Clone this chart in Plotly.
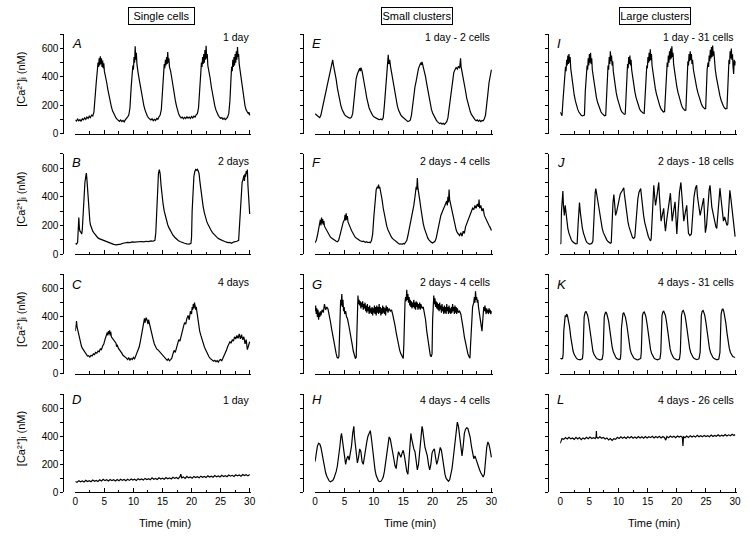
import plotly.graph_objects as go

# ---------------- data: (time in min, [Ca2+]i in nM) ----------------
trace_A = [(0,95),(0.2,88),(0.4,102),(0.6,90),(0.8,98),(1.0,86),(1.2,104),(1.4,96),(1.6,110),(1.8,100),(2.0,116),(2.2,106),(2.4,122),(2.6,112),(2.8,130),(3.0,124),(3.2,150),(3.4,230),(3.6,360),(3.8,450),(3.9,500),(4.0,470),(4.1,530),(4.2,480),(4.3,545),(4.4,490),(4.5,530),(4.6,470),(4.7,515),(4.8,460),(4.9,495),(5.0,440),(5.2,410),(5.4,360),(5.6,310),(5.8,265),(6.0,225),(6.2,190),(6.4,160),(6.6,140),(6.8,122),(7.0,110),(7.2,100),(7.4,94),(7.6,86),(7.8,96),(8.0,84),(8.2,92),(8.4,82),(8.6,96),(8.8,104),(9.0,118),(9.2,130),(9.4,180),(9.6,320),(9.8,440),(9.9,480),(10.0,450),(10.1,540),(10.2,500),(10.3,615),(10.4,520),(10.5,570),(10.6,490),(10.7,470),(10.8,430),(11.0,380),(11.2,330),(11.4,280),(11.6,235),(11.8,195),(12.0,165),(12.2,140),(12.4,122),(12.6,110),(12.8,104),(13.0,96),(13.2,104),(13.4,90),(13.6,100),(13.8,92),(14.0,106),(14.2,100),(14.4,118),(14.6,130),(14.8,170),(15.0,320),(15.2,440),(15.3,490),(15.4,460),(15.5,520),(15.6,480),(15.7,540),(15.8,490),(15.9,575),(16.0,500),(16.1,530),(16.2,470),(16.4,440),(16.6,390),(16.8,330),(17.0,280),(17.2,235),(17.4,195),(17.6,160),(17.8,135),(18.0,120),(18.2,110),(18.4,116),(18.6,104),(18.8,114),(19.0,106),(19.2,118),(19.4,108),(19.6,116),(19.8,106),(20.0,120),(20.2,110),(20.4,122),(20.6,116),(20.8,132),(21.0,140),(21.2,180),(21.4,330),(21.6,450),(21.7,500),(21.8,470),(21.9,540),(22.0,490),(22.1,560),(22.2,500),(22.3,590),(22.4,520),(22.5,620),(22.6,530),(22.7,560),(22.8,480),(23.0,440),(23.2,390),(23.4,330),(23.6,280),(23.8,235),(24.0,195),(24.2,165),(24.4,142),(24.6,128),(24.8,116),(25.0,108),(25.2,112),(25.4,100),(25.6,108),(25.8,98),(26.0,106),(26.2,115),(26.4,140),(26.6,230),(26.8,400),(26.9,470),(27.0,440),(27.1,520),(27.2,470),(27.3,540),(27.4,480),(27.5,560),(27.6,500),(27.7,580),(27.8,520),(27.9,610),(28.0,540),(28.1,560),(28.2,490),(28.4,430),(28.6,360),(28.8,290),(29.0,235),(29.2,195),(29.4,165),(29.6,150),(29.8,138),(29.9,150),(30.0,128)]

trace_B = [(0,75),(0.2,70),(0.4,82),(0.5,150),(0.6,255),(0.7,180),(0.8,160),(1.0,150),(1.1,140),(1.2,170),(1.35,300),(1.5,420),(1.65,500),(1.8,540),(1.9,565),(2.0,520),(2.1,450),(2.2,380),(2.3,320),(2.4,270),(2.5,230),(2.6,205),(2.8,180),(3.0,160),(3.2,148),(3.4,135),(3.6,125),(3.8,118),(4.0,110),(4.3,105),(4.6,98),(5.0,90),(5.4,84),(5.8,78),(6.2,72),(6.6,68),(7.0,65),(7.4,66),(7.8,70),(8.2,76),(8.6,80),(9.0,82),(9.4,80),(9.8,85),(10.2,84),(10.6,86),(11.0,84),(11.4,88),(11.8,86),(12.2,90),(12.6,88),(13.0,92),(13.4,90),(13.7,96),(13.85,150),(14.0,320),(14.15,470),(14.3,560),(14.45,590),(14.6,560),(14.75,480),(14.9,410),(15.1,350),(15.3,300),(15.5,260),(15.7,230),(15.9,205),(16.1,185),(16.3,168),(16.5,150),(16.8,132),(17.1,118),(17.4,105),(17.7,95),(18.0,88),(18.4,80),(18.8,76),(19.2,72),(19.6,70),(19.9,75),(20.0,120),(20.1,300),(20.25,470),(20.4,540),(20.55,575),(20.7,590),(20.85,585),(21.0,592),(21.15,580),(21.3,560),(21.45,500),(21.6,440),(21.8,380),(22.0,330),(22.2,290),(22.4,255),(22.6,230),(22.8,210),(23.0,190),(23.3,170),(23.6,150),(23.9,135),(24.2,122),(24.5,112),(24.8,105),(25.1,98),(25.4,92),(25.7,88),(26.0,84),(26.3,80),(26.6,82),(26.9,76),(27.2,84),(27.5,86),(27.8,90),(28.1,96),(28.25,200),(28.4,380),(28.55,460),(28.7,500),(28.85,520),(29.0,550),(29.1,510),(29.2,560),(29.3,540),(29.4,580),(29.5,560),(29.6,590),(29.7,480),(29.8,420),(29.9,340),(30.0,280)]

trace_C = [(0,300),(0.1,340),(0.2,370),(0.3,330),(0.45,300),(0.6,260),(0.75,230),(0.9,205),(1.05,195),(1.2,180),(1.35,170),(1.5,160),(1.7,145),(1.9,135),(2.1,125),(2.3,128),(2.5,118),(2.7,130),(2.9,125),(3.1,140),(3.3,135),(3.5,150),(3.7,145),(3.9,160),(4.1,155),(4.3,175),(4.5,170),(4.7,195),(4.9,210),(5.1,240),(5.3,265),(5.5,290),(5.6,270),(5.7,300),(5.8,280),(5.9,305),(6.0,270),(6.1,295),(6.2,260),(6.4,250),(6.6,240),(6.8,225),(7.0,215),(7.1,190),(7.2,205),(7.4,180),(7.6,170),(7.8,160),(8.0,145),(8.2,130),(8.4,125),(8.6,115),(8.8,110),(9.0,100),(9.2,112),(9.4,96),(9.6,108),(9.8,100),(10.0,115),(10.2,105),(10.4,125),(10.6,140),(10.8,165),(11.0,190),(11.2,230),(11.4,280),(11.6,330),(11.8,370),(11.9,390),(12.0,360),(12.2,395),(12.4,370),(12.5,350),(12.6,380),(12.8,340),(13.0,300),(13.2,270),(13.4,240),(13.6,210),(13.8,185),(14.0,175),(14.2,170),(14.4,160),(14.6,150),(14.8,140),(15.0,130),(15.2,120),(15.4,112),(15.6,100),(15.8,95),(16.0,105),(16.2,92),(16.4,100),(16.6,110),(16.8,140),(17.0,165),(17.2,150),(17.4,185),(17.6,210),(17.8,240),(18.0,230),(18.2,270),(18.4,300),(18.6,330),(18.8,360),(19.0,350),(19.2,390),(19.4,410),(19.6,380),(19.8,440),(20.0,420),(20.1,470),(20.2,450),(20.3,490),(20.4,460),(20.5,500),(20.6,480),(20.7,450),(20.8,470),(21.0,400),(21.2,350),(21.4,300),(21.6,270),(21.8,240),(22.0,210),(22.2,190),(22.4,170),(22.6,150),(22.8,135),(23.0,120),(23.2,108),(23.4,100),(23.6,92),(23.8,88),(24.0,95),(24.2,85),(24.4,92),(24.6,82),(24.8,95),(25.0,100),(25.2,92),(25.4,110),(25.6,120),(25.8,140),(26.0,165),(26.2,190),(26.4,205),(26.6,225),(26.8,215),(27.0,240),(27.2,230),(27.4,260),(27.6,245),(27.8,270),(28.0,250),(28.2,280),(28.4,245),(28.6,275),(28.8,240),(29.0,260),(29.2,210),(29.4,240),(29.6,170),(29.8,200),(30.0,225)]

trace_D = [(0,78),(0.3,72),(0.6,84),(0.9,76),(1.2,82),(1.5,74),(1.8,86),(2.1,78),(2.4,84),(2.7,76),(3.0,88),(3.3,80),(3.6,86),(3.9,78),(4.2,90),(4.5,82),(4.8,94),(5.1,84),(5.4,90),(5.7,82),(6.0,92),(6.3,84),(6.6,90),(6.9,82),(7.2,92),(7.5,84),(7.8,94),(8.1,86),(8.4,92),(8.7,84),(9.0,94),(9.3,86),(9.6,96),(9.9,88),(10.2,94),(10.5,86),(10.8,98),(11.1,90),(11.4,96),(11.7,88),(12.0,100),(12.3,92),(12.6,98),(12.9,90),(13.2,104),(13.5,94),(13.8,100),(14.1,92),(14.4,104),(14.7,96),(15.0,102),(15.3,94),(15.6,106),(15.9,98),(16.2,104),(16.5,96),(16.8,108),(17.1,100),(17.4,106),(17.7,98),(18.0,112),(18.15,130),(18.3,104),(18.6,110),(18.9,100),(19.2,114),(19.5,104),(19.8,110),(20.1,102),(20.4,114),(20.7,106),(21.0,112),(21.3,104),(21.6,116),(21.9,108),(22.2,114),(22.5,106),(22.8,118),(23.1,110),(23.4,116),(23.7,108),(24.0,120),(24.3,112),(24.6,118),(24.9,110),(25.2,122),(25.5,114),(25.8,120),(26.1,112),(26.4,124),(26.7,116),(27.0,122),(27.3,114),(27.6,126),(27.9,118),(28.2,124),(28.5,116),(28.8,128),(29.1,120),(29.4,126),(29.7,118),(30.0,128)]

trace_E = [(0,140),(0.2,130),(0.4,122),(0.6,118),(0.8,112),(1.0,130),(1.2,170),(1.4,210),(1.6,250),(1.8,290),(2.0,330),(2.2,370),(2.4,410),(2.6,450),(2.8,480),(2.9,500),(3.0,520),(3.1,490),(3.2,470),(3.4,420),(3.6,380),(3.8,320),(4.0,270),(4.2,230),(4.4,195),(4.6,170),(4.8,150),(5.0,135),(5.2,125),(5.4,118),(5.6,112),(5.8,110),(6.0,108),(6.2,115),(6.4,140),(6.6,230),(6.8,330),(7.0,390),(7.2,420),(7.4,440),(7.6,460),(7.7,440),(7.8,465),(8.0,440),(8.2,400),(8.4,350),(8.6,300),(8.8,250),(9.0,210),(9.2,180),(9.4,160),(9.6,140),(9.8,128),(10.0,118),(10.2,112),(10.4,108),(10.6,104),(10.8,100),(11.0,98),(11.2,102),(11.4,96),(11.6,110),(11.8,200),(12.0,320),(12.2,430),(12.35,500),(12.45,555),(12.55,490),(12.7,520),(12.85,470),(13.0,430),(13.2,380),(13.4,330),(13.6,280),(13.8,230),(14.0,195),(14.2,165),(14.4,145),(14.6,130),(14.8,120),(15.0,112),(15.2,104),(15.4,96),(15.6,90),(15.8,84),(16.0,88),(16.2,94),(16.4,130),(16.6,200),(16.8,280),(17.0,330),(17.2,370),(17.4,420),(17.6,460),(17.8,480),(18.0,500),(18.1,485),(18.2,505),(18.4,470),(18.6,440),(18.8,400),(19.0,350),(19.2,300),(19.4,250),(19.6,205),(19.8,170),(20.0,145),(20.2,125),(20.4,110),(20.6,96),(20.8,84),(21.0,76),(21.2,70),(21.4,74),(21.6,66),(21.8,72),(22.0,64),(22.2,74),(22.4,84),(22.6,110),(22.8,180),(23.0,260),(23.2,330),(23.4,390),(23.6,430),(23.8,450),(24.0,465),(24.2,455),(24.4,475),(24.6,460),(24.75,530),(24.85,470),(25.0,440),(25.2,400),(25.4,350),(25.6,300),(25.8,250),(26.0,210),(26.2,180),(26.4,155),(26.6,135),(26.8,120),(27.0,108),(27.2,98),(27.4,90),(27.6,96),(27.8,86),(28.0,94),(28.2,84),(28.4,92),(28.6,90),(28.8,104),(29.0,130),(29.2,190),(29.4,280),(29.6,360),(29.8,420),(30.0,450)]

trace_F = [(0,80),(0.2,95),(0.4,130),(0.6,170),(0.8,210),(0.9,240),(1.0,200),(1.1,255),(1.2,215),(1.3,245),(1.4,205),(1.5,230),(1.6,195),(1.8,180),(2.0,160),(2.2,145),(2.4,130),(2.6,120),(2.8,112),(3.0,105),(3.2,100),(3.4,95),(3.6,90),(3.8,86),(4.0,95),(4.2,125),(4.4,160),(4.6,195),(4.8,225),(5.0,240),(5.1,275),(5.2,235),(5.3,285),(5.4,240),(5.5,265),(5.6,225),(5.8,210),(6.0,185),(6.2,165),(6.4,148),(6.6,132),(6.8,120),(7.0,112),(7.2,105),(7.4,100),(7.6,95),(7.8,92),(8.0,88),(8.2,90),(8.4,85),(8.6,82),(8.8,86),(9.0,80),(9.2,84),(9.4,80),(9.6,95),(9.8,140),(10.0,260),(10.2,380),(10.4,450),(10.6,470),(10.7,460),(10.8,485),(10.9,460),(11.0,470),(11.2,430),(11.4,380),(11.6,320),(11.8,270),(12.0,230),(12.2,195),(12.4,170),(12.6,150),(12.8,132),(13.0,118),(13.2,108),(13.4,100),(13.6,92),(13.8,85),(14.0,78),(14.2,74),(14.4,70),(14.6,72),(14.8,68),(15.0,74),(15.2,70),(15.4,80),(15.6,95),(15.8,130),(16.0,170),(16.2,210),(16.4,250),(16.6,290),(16.8,340),(17.0,400),(17.1,430),(17.2,470),(17.3,450),(17.4,530),(17.5,460),(17.6,440),(17.8,380),(18.0,320),(18.2,260),(18.4,215),(18.6,180),(18.8,150),(19.0,128),(19.2,110),(19.4,98),(19.6,88),(19.8,82),(20.0,78),(20.2,82),(20.4,90),(20.6,110),(20.8,150),(21.0,200),(21.2,230),(21.4,270),(21.6,290),(21.8,310),(22.0,330),(22.2,345),(22.4,370),(22.5,340),(22.6,400),(22.7,360),(22.8,450),(22.9,380),(23.0,360),(23.2,320),(23.4,280),(23.6,240),(23.8,200),(24.0,170),(24.2,150),(24.4,140),(24.6,130),(24.8,150),(25.0,125),(25.2,160),(25.4,145),(25.6,190),(25.8,210),(26.0,240),(26.2,260),(26.4,280),(26.6,300),(26.8,320),(27.0,310),(27.2,340),(27.4,320),(27.6,350),(27.8,330),(27.9,380),(28.0,320),(28.2,340),(28.4,300),(28.6,320),(28.8,270),(29.0,250),(29.2,230),(29.4,220),(29.6,200),(29.8,185),(30.0,165)]

trace_G = [(0,440),(0.1,480),(0.2,420),(0.3,460),(0.4,400),(0.5,450),(0.6,380),(0.7,430),(0.8,400),(0.9,440),(1.0,410),(1.2,450),(1.4,430),(1.6,490),(1.8,450),(2.0,470),(2.2,455),(2.4,420),(2.6,370),(2.8,320),(3.0,270),(3.2,220),(3.4,180),(3.6,140),(3.75,115),(3.9,110),(4.05,120),(4.15,330),(4.25,450),(4.35,520),(4.45,480),(4.55,560),(4.65,470),(4.75,520),(4.85,440),(4.95,470),(5.05,420),(5.2,440),(5.35,400),(5.5,390),(5.7,350),(5.9,310),(6.1,260),(6.3,210),(6.5,160),(6.7,125),(6.85,110),(7.0,115),(7.1,300),(7.2,480),(7.3,550),(7.4,490),(7.5,520),(7.6,480),(7.7,510),(7.8,460),(7.9,500),(8.0,470),(8.1,510),(8.2,450),(8.3,490),(8.4,460),(8.5,500),(8.6,440),(8.7,480),(8.8,430),(8.9,490),(9.0,440),(9.1,470),(9.2,420),(9.3,480),(9.4,430),(9.5,460),(9.6,420),(9.7,470),(9.8,410),(9.9,460),(10.0,430),(10.1,480),(10.2,420),(10.3,470),(10.4,410),(10.5,480),(10.6,430),(10.7,470),(10.8,420),(10.9,490),(11.0,430),(11.1,470),(11.2,410),(11.3,460),(11.4,420),(11.5,480),(11.6,430),(11.7,470),(11.8,420),(11.9,460),(12.0,410),(12.1,480),(12.2,440),(12.3,470),(12.4,430),(12.6,460),(12.8,440),(13.0,450),(13.2,420),(13.4,390),(13.6,340),(13.8,290),(14.0,240),(14.2,200),(14.4,165),(14.6,140),(14.8,120),(15.0,108),(15.1,200),(15.2,420),(15.3,500),(15.4,540),(15.5,510),(15.6,590),(15.7,520),(15.8,560),(15.9,500),(16.0,540),(16.1,480),(16.2,520),(16.3,470),(16.4,510),(16.5,460),(16.6,500),(16.7,470),(16.8,520),(16.9,460),(17.0,500),(17.1,450),(17.2,510),(17.3,470),(17.4,500),(17.5,450),(17.6,490),(17.7,460),(17.8,500),(17.9,450),(18.0,490),(18.2,460),(18.4,470),(18.6,430),(18.8,380),(19.0,300),(19.2,230),(19.4,170),(19.6,130),(19.75,120),(19.9,140),(20.0,380),(20.1,500),(20.2,550),(20.3,490),(20.4,530),(20.5,470),(20.6,510),(20.7,460),(20.8,500),(20.9,450),(21.0,490),(21.1,440),(21.2,500),(21.3,450),(21.4,480),(21.5,430),(21.6,490),(21.7,440),(21.8,470),(21.9,420),(22.0,480),(22.1,430),(22.2,470),(22.3,420),(22.4,490),(22.5,440),(22.6,470),(22.7,420),(22.8,480),(22.9,430),(23.0,460),(23.1,420),(23.2,470),(23.3,430),(23.4,490),(23.5,440),(23.6,470),(23.7,420),(23.8,480),(23.9,430),(24.0,470),(24.1,420),(24.2,460),(24.4,430),(24.6,440),(24.8,420),(25.0,380),(25.2,320),(25.4,260),(25.6,210),(25.8,170),(26.0,140),(26.2,120),(26.35,110),(26.45,200),(26.6,380),(26.8,470),(27.0,500),(27.1,540),(27.2,500),(27.3,580),(27.4,520),(27.5,540),(27.6,500),(27.7,520),(27.8,470),(27.9,440),(28.0,400),(28.1,360),(28.2,330),(28.3,310),(28.4,300),(28.5,360),(28.6,430),(28.7,470),(28.8,440),(28.9,480),(29.0,450),(29.1,420),(29.2,460),(29.3,430),(29.4,450),(29.5,420),(29.6,460),(29.7,430),(29.8,450),(29.9,420),(30.0,440)]

trace_H = [(0,220),(0.2,280),(0.4,330),(0.6,350),(0.8,345),(1.0,320),(1.2,270),(1.4,220),(1.6,180),(1.8,140),(2.0,115),(2.2,95),(2.4,82),(2.6,76),(2.8,78),(3.0,85),(3.2,100),(3.4,120),(3.6,150),(3.8,190),(4.0,240),(4.2,320),(4.4,400),(4.5,420),(4.6,390),(4.8,320),(5.0,240),(5.2,200),(5.4,240),(5.6,260),(5.8,230),(6.0,270),(6.2,330),(6.4,420),(6.6,470),(6.7,400),(6.8,350),(7.0,280),(7.2,210),(7.4,250),(7.6,310),(7.8,290),(8.0,220),(8.2,200),(8.4,260),(8.6,300),(8.8,360),(9.0,400),(9.2,420),(9.4,440),(9.6,380),(9.8,300),(10.0,220),(10.2,160),(10.4,120),(10.6,95),(10.8,82),(11.0,78),(11.2,80),(11.4,92),(11.6,110),(11.8,150),(12.0,220),(12.2,300),(12.4,370),(12.6,395),(12.8,380),(13.0,340),(13.2,290),(13.4,240),(13.6,190),(13.8,170),(14.0,240),(14.2,290),(14.4,270),(14.6,250),(14.8,280),(15.0,300),(15.2,260),(15.4,200),(15.6,150),(15.8,130),(16.0,250),(16.2,370),(16.3,420),(16.4,390),(16.6,340),(16.8,310),(17.0,290),(17.2,220),(17.4,160),(17.6,200),(17.8,280),(18.0,380),(18.2,470),(18.3,450),(18.5,370),(18.7,320),(18.9,290),(19.1,260),(19.3,200),(19.5,160),(19.7,200),(19.9,280),(20.1,300),(20.3,310),(20.5,250),(20.7,200),(20.9,230),(21.1,280),(21.3,320),(21.5,300),(21.7,230),(21.9,170),(22.1,130),(22.3,100),(22.5,85),(22.7,80),(22.9,90),(23.1,120),(23.3,170),(23.5,240),(23.7,320),(23.9,420),(24.1,480),(24.2,500),(24.4,470),(24.6,410),(24.8,320),(25.0,260),(25.2,330),(25.4,420),(25.6,450),(25.8,460),(26.0,455),(26.2,430),(26.4,390),(26.6,330),(26.8,270),(27.0,240),(27.2,260),(27.4,230),(27.6,200),(27.8,175),(28.0,160),(28.2,140),(28.4,125),(28.6,110),(28.8,130),(29.0,230),(29.2,320),(29.4,360),(29.6,340),(29.8,300),(30.0,250)]

trace_I = [(0,150),(0.15,130),(0.3,125),(0.45,220),(0.6,330),(0.75,420),(0.9,470),(1.0,440),(1.1,520),(1.2,480),(1.3,550),(1.4,490),(1.5,560),(1.6,500),(1.7,540),(1.8,460),(1.9,420),(2.05,370),(2.2,320),(2.4,270),(2.6,230),(2.8,195),(3.0,170),(3.2,152),(3.4,138),(3.6,128),(3.8,124),(4.0,126),(4.15,130),(4.3,300),(4.45,430),(4.6,480),(4.7,450),(4.8,530),(4.9,480),(5.0,560),(5.1,500),(5.2,570),(5.3,490),(5.4,530),(5.5,450),(5.65,400),(5.8,350),(6.0,300),(6.2,255),(6.4,220),(6.6,192),(6.8,170),(7.0,152),(7.2,140),(7.4,130),(7.6,125),(7.8,128),(7.95,260),(8.1,420),(8.2,480),(8.3,450),(8.4,540),(8.5,490),(8.6,580),(8.7,510),(8.8,550),(8.9,480),(9.0,510),(9.1,440),(9.25,390),(9.4,340),(9.6,290),(9.8,250),(10.0,215),(10.2,188),(10.4,165),(10.6,150),(10.8,140),(11.0,135),(11.15,138),(11.3,300),(11.45,440),(11.55,490),(11.65,460),(11.75,540),(11.85,490),(11.95,550),(12.05,480),(12.15,520),(12.25,450),(12.4,400),(12.6,345),(12.8,295),(13.0,255),(13.2,222),(13.4,195),(13.6,175),(13.8,160),(14.0,150),(14.2,145),(14.4,142),(14.55,280),(14.7,420),(14.85,480),(14.95,460),(15.05,540),(15.15,500),(15.25,570),(15.35,510),(15.45,595),(15.55,520),(15.65,560),(15.75,480),(15.9,430),(16.1,370),(16.3,320),(16.5,280),(16.7,245),(16.9,215),(17.1,192),(17.3,172),(17.5,160),(17.7,152),(17.9,155),(18.05,300),(18.2,440),(18.35,500),(18.45,470),(18.55,550),(18.65,500),(18.75,580),(18.85,520),(18.95,600),(19.05,530),(19.15,615),(19.25,540),(19.35,570),(19.45,490),(19.6,440),(19.8,380),(20.0,330),(20.2,290),(20.4,255),(20.6,225),(20.8,200),(21.0,180),(21.2,168),(21.4,162),(21.55,165),(21.65,320),(21.8,460),(21.9,510),(22.0,480),(22.1,560),(22.2,510),(22.3,580),(22.4,520),(22.5,560),(22.6,490),(22.7,520),(22.85,450),(23.0,410),(23.2,365),(23.4,325),(23.6,290),(23.8,260),(24.0,232),(24.2,210),(24.4,192),(24.6,180),(24.8,174),(24.95,176),(25.05,320),(25.2,450),(25.35,500),(25.45,470),(25.55,550),(25.65,510),(25.75,590),(25.85,530),(25.95,610),(26.05,540),(26.15,620),(26.25,550),(26.35,580),(26.45,500),(26.6,450),(26.8,395),(27.0,345),(27.2,300),(27.4,265),(27.6,235),(27.8,210),(28.0,192),(28.2,180),(28.4,174),(28.6,176),(28.7,300),(28.85,450),(28.95,520),(29.05,490),(29.15,580),(29.25,530),(29.35,600),(29.45,520),(29.55,560),(29.65,470),(29.75,420),(29.85,520),(29.95,480),(30.0,510)]

trace_J = [(0,70),(0.1,75),(0.2,290),(0.35,380),(0.45,440),(0.55,340),(0.7,270),(0.85,340),(0.95,300),(1.1,230),(1.3,180),(1.5,145),(1.7,120),(1.9,100),(2.1,88),(2.3,80),(2.5,75),(2.7,72),(2.9,74),(3.05,200),(3.2,320),(3.3,360),(3.45,290),(3.6,230),(3.8,180),(4.0,145),(4.2,115),(4.4,95),(4.6,80),(4.8,72),(5.0,70),(5.2,72),(5.4,75),(5.6,90),(5.7,200),(5.85,350),(6.0,430),(6.1,458),(6.25,420),(6.4,360),(6.6,300),(6.8,250),(7.0,210),(7.2,180),(7.4,150),(7.6,128),(7.8,110),(8.0,98),(8.2,88),(8.4,80),(8.6,76),(8.75,80),(8.9,250),(9.05,360),(9.2,415),(9.35,320),(9.5,270),(9.7,300),(9.9,350),(10.1,390),(10.3,420),(10.6,440),(10.9,462),(11.0,420),(11.2,340),(11.4,280),(11.6,230),(11.8,190),(12.0,160),(12.2,135),(12.4,115),(12.6,110),(12.8,120),(12.95,200),(13.1,300),(13.3,380),(13.5,430),(13.7,450),(13.8,457),(13.95,400),(14.1,330),(14.3,270),(14.5,220),(14.7,180),(14.9,150),(15.1,125),(15.3,105),(15.5,92),(15.6,108),(15.75,250),(15.9,420),(16.05,480),(16.2,400),(16.35,340),(16.5,380),(16.7,450),(16.9,500),(17.0,420),(17.15,300),(17.3,230),(17.5,270),(17.75,320),(17.9,220),(18.05,160),(18.3,250),(18.6,360),(18.9,425),(19.05,330),(19.2,230),(19.45,300),(19.7,365),(19.85,250),(20.0,140),(20.2,280),(20.45,430),(20.7,500),(20.85,400),(21.0,300),(21.2,230),(21.45,290),(21.7,340),(21.85,230),(22.0,145),(22.25,130),(22.5,140),(22.7,260),(22.95,400),(23.2,460),(23.4,480),(23.55,400),(23.75,320),(24.0,270),(24.3,330),(24.6,390),(24.75,280),(24.9,150),(25.1,200),(25.35,380),(25.55,450),(25.7,480),(25.85,400),(26.0,330),(26.2,290),(26.45,230),(26.7,190),(26.85,180),(27.0,260),(27.2,400),(27.4,460),(27.55,400),(27.75,310),(28.0,230),(28.2,260),(28.4,220),(28.6,200),(28.75,210),(28.9,350),(29.1,445),(29.3,380),(29.5,290),(29.7,210),(29.9,150),(30.0,122)]

trace_K = [(0,110),(0.2,105),(0.4,108),(0.5,140),(0.6,300),(0.7,390),(0.85,410),(1.0,400),(1.1,420),(1.25,405),(1.4,380),(1.6,330),(1.8,260),(2.0,200),(2.2,160),(2.4,135),(2.6,118),(2.8,108),(3.0,102),(3.2,100),(3.4,98),(3.6,102),(3.8,105),(3.9,140),(4.0,310),(4.1,400),(4.25,430),(4.4,440),(4.55,425),(4.7,410),(4.85,380),(5.0,330),(5.2,260),(5.4,200),(5.6,160),(5.8,135),(6.0,120),(6.2,110),(6.4,104),(6.6,100),(6.8,98),(7.0,100),(7.2,104),(7.35,140),(7.45,320),(7.55,400),(7.7,425),(7.85,435),(8.0,420),(8.15,400),(8.3,370),(8.5,310),(8.7,240),(8.9,190),(9.1,155),(9.3,132),(9.5,118),(9.7,108),(9.9,102),(10.1,100),(10.3,104),(10.4,140),(10.5,320),(10.6,400),(10.75,420),(10.9,430),(11.05,415),(11.2,395),(11.4,350),(11.6,280),(11.8,215),(12.0,170),(12.2,142),(12.4,125),(12.6,112),(12.8,105),(13.0,100),(13.2,98),(13.4,100),(13.6,103),(13.8,108),(13.9,150),(14.0,330),(14.1,410),(14.25,430),(14.4,435),(14.55,420),(14.7,400),(14.9,350),(15.1,280),(15.3,215),(15.5,170),(15.7,140),(15.9,122),(16.1,110),(16.3,104),(16.5,100),(16.7,98),(16.9,102),(17.1,105),(17.25,150),(17.35,330),(17.45,410),(17.6,435),(17.75,440),(17.9,425),(18.05,410),(18.25,360),(18.45,290),(18.65,220),(18.85,175),(19.05,145),(19.25,125),(19.45,112),(19.65,105),(19.85,100),(20.05,98),(20.25,100),(20.45,104),(20.6,150),(20.7,330),(20.8,410),(20.95,440),(21.1,445),(21.25,430),(21.4,410),(21.6,360),(21.8,290),(22.0,225),(22.2,178),(22.4,148),(22.6,128),(22.8,115),(23.0,107),(23.2,102),(23.4,100),(23.6,102),(23.8,105),(24.0,150),(24.1,330),(24.2,410),(24.35,440),(24.5,445),(24.65,430),(24.8,410),(25.0,360),(25.2,290),(25.4,225),(25.6,178),(25.8,148),(26.0,128),(26.2,115),(26.4,107),(26.6,102),(26.8,100),(27.0,100),(27.2,104),(27.4,150),(27.5,330),(27.6,420),(27.75,450),(27.9,455),(28.05,440),(28.2,415),(28.4,360),(28.6,290),(28.8,225),(29.0,180),(29.2,150),(29.4,132),(29.6,122),(29.8,118),(30.0,115)]

trace_L = [(0,350),(0.15,372),(0.3,384),(0.6,378),(0.9,390),(1.2,380),(1.5,392),(1.8,382),(2.1,388),(2.4,378),(2.7,392),(3.0,380),(3.3,390),(3.6,376),(3.9,388),(4.2,380),(4.5,392),(4.8,382),(5.1,394),(5.4,384),(5.7,390),(6.0,384),(6.15,395),(6.2,437),(6.25,392),(6.5,386),(6.8,396),(7.1,386),(7.4,392),(7.7,380),(8.0,388),(8.3,374),(8.6,384),(8.9,370),(9.2,382),(9.5,378),(9.8,392),(10.1,384),(10.4,396),(10.7,386),(11.0,394),(11.3,384),(11.6,396),(11.9,388),(12.2,398),(12.5,386),(12.8,394),(13.1,386),(13.4,398),(13.7,388),(14.0,396),(14.3,386),(14.6,398),(14.9,388),(15.2,396),(15.5,390),(15.8,400),(16.1,388),(16.4,398),(16.7,390),(17.0,400),(17.3,388),(17.6,398),(17.9,390),(18.1,372),(18.3,398),(18.6,390),(18.9,402),(19.2,392),(19.5,400),(19.8,390),(20.1,402),(20.4,394),(20.7,400),(20.95,392),(21.05,330),(21.15,396),(21.4,390),(21.7,402),(22.0,392),(22.3,404),(22.6,394),(22.9,402),(23.2,394),(23.5,406),(23.8,396),(24.1,404),(24.4,396),(24.7,406),(25.0,398),(25.3,404),(25.6,396),(25.9,408),(26.2,398),(26.5,406),(26.8,400),(27.1,410),(27.4,400),(27.7,408),(28.0,402),(28.3,412),(28.6,402),(28.9,410),(29.2,404),(29.5,414),(29.8,406),(30.0,412)]

panel_letters = ["A", "B", "C", "D", "E", "F", "G", "H", "I", "J", "K", "L"]
panel_labels = ["1 day", "2 days", "4 days", "1 day",
                "1 day - 2 cells", "2 days - 4 cells", "2 days - 4 cells", "4 days - 4 cells",
                "1 day - 31 cells", "2 days - 18 cells", "4 days - 31 cells", "4 days - 26 cells"]
panel_traces = [trace_A, trace_B, trace_C, trace_D, trace_E, trace_F,
                trace_G, trace_H, trace_I, trace_J, trace_K, trace_L]
column_titles = ["Single cells", "Small clusters", "Large clusters"]
y_tick_values = [0, 200, 400, 600]
y_minor_tick_values = [100, 300, 500, 700]
x_tick_values = [0, 5, 10, 15, 20, 25, 30]
x_minor_tick_values = [2.5, 7.5, 12.5, 17.5, 22.5, 27.5]
y_title = "[Ca²⁺]ᵢ (nM)"
x_title = "Time (min)"

# ---------------- layout geometry (pixels) ----------------
W, H = 750, 540
FONT = "Liberation Sans, Arial, Helvetica, sans-serif"
# (y-axis line x, x=0 position, x=30 position)
col_px = [(61, 73, 249), (303, 315, 493), (550, 562.5, 739)]
# (top of y axis = 700 nM, bottom = 0 nM)
row_px = [(34.7, 135), (155.5, 257), (277.3, 378), (398.5, 498)]
XMAX = 30.3
title_centers = [159.5, 418, 658]
title_widths = [63, 68, 68]
label_y = [37.5, 162.5, 285.5, 404.5]
letter_y = [43.5, 164, 287.5, 404]
xtitle_x = [164, 411, 657]

def px_x(p):
    return p / W

def px_y(p):
    return 1 - p / H

fig = go.Figure()
layout = dict(width=W, height=H, margin=dict(l=0, r=0, t=0, b=0),
              paper_bgcolor="white", plot_bgcolor="white", showlegend=False,
              font=dict(family=FONT, size=10, color="black"))
annotations = []

for c in range(3):
    yline, x0p, x30p = col_px[c]
    xend = x0p + XMAX * (x30p - x0p) / 30.0
    for r in range(4):
        k = c * 4 + r + 1
        xa = "x" if k == 1 else f"x{k}"
        ya = "y" if k == 1 else f"y{k}"
        top, bot = row_px[r]
        pts = panel_traces[k - 1]
        fig.add_trace(go.Scatter(x=[p[0] for p in pts], y=[p[1] for p in pts],
                                 mode="lines", line=dict(color="black", width=1.2),
                                 xaxis=xa, yaxis=ya, hoverinfo="skip"))
        layout["xaxis" if k == 1 else f"xaxis{k}"] = dict(
            domain=[px_x(x0p), px_x(xend)], range=[0, XMAX], anchor=ya,
            showline=True, linecolor="black", linewidth=1, showgrid=False, zeroline=False,
            ticks="inside", ticklen=4, tickwidth=1, tickcolor="black",
            tickvals=x_tick_values, showticklabels=(r == 3),
            tickfont=dict(family=FONT, size=10, color="black"),
            minor=dict(tickvals=x_minor_tick_values, ticks="inside",
                       ticklen=2.5, tickcolor="black", tickwidth=1, showgrid=False),
        )
        layout["yaxis" if k == 1 else f"yaxis{k}"] = dict(
            domain=[px_y(bot), px_y(top)], range=[0, 700], anchor="free",
            position=px_x(yline),
            showline=True, linecolor="black", linewidth=1, showgrid=False, zeroline=False,
            ticks="outside", ticklen=3, tickwidth=1, tickcolor="black",
            tickvals=y_tick_values, showticklabels=(c == 0),
            tickfont=dict(family=FONT, size=10, color="black"),
            minor=dict(tickvals=y_minor_tick_values, ticks="outside",
                       ticklen=3, tickcolor="black", tickwidth=1, showgrid=False),
        )
        # panel letter
        annotations.append(dict(text=f"<i>{panel_letters[k-1]}</i>", xref="paper", yref="paper",
                                x=px_x(yline + 7), y=px_y(letter_y[r]), xanchor="left", yanchor="middle",
                                showarrow=False, font=dict(family=FONT, size=13, color="black")))
        # condition label
        annotations.append(dict(text=panel_labels[k-1], xref="paper", yref="paper",
                                x=px_x(x30p + 1), y=px_y(label_y[r]), xanchor="right", yanchor="middle",
                                showarrow=False, font=dict(family=FONT, size=10.5, color="black")))
        if c == 0:
            annotations.append(dict(text=y_title, xref="paper", yref="paper",
                                    x=px_x(18), y=px_y((top + bot) / 2 - 5), xanchor="center", yanchor="middle",
                                    textangle=-90, showarrow=False,
                                    font=dict(family=FONT, size=11, color="black")))
    annotations.append(dict(text=column_titles[c], xref="paper", yref="paper",
                            x=px_x(title_centers[c]), y=px_y(16), xanchor="center", yanchor="middle",
                            showarrow=False, bordercolor="black", borderwidth=1, borderpad=1,
                            width=title_widths[c], height=14,
                            font=dict(family=FONT, size=11, color="black")))
    annotations.append(dict(text=x_title, xref="paper", yref="paper",
                            x=px_x(xtitle_x[c]), y=px_y(529), xanchor="center", yanchor="middle",
                            showarrow=False, font=dict(family=FONT, size=11, color="black")))

layout["annotations"] = annotations
fig.update_layout(**layout)
# remove the default page margin so the 750x540 figure fills the window exactly
fig.write_html("out.html", config={"displayModeBar": False, "staticPlot": True},
               post_script="document.body.style.margin='0';document.body.style.overflow='hidden';")
